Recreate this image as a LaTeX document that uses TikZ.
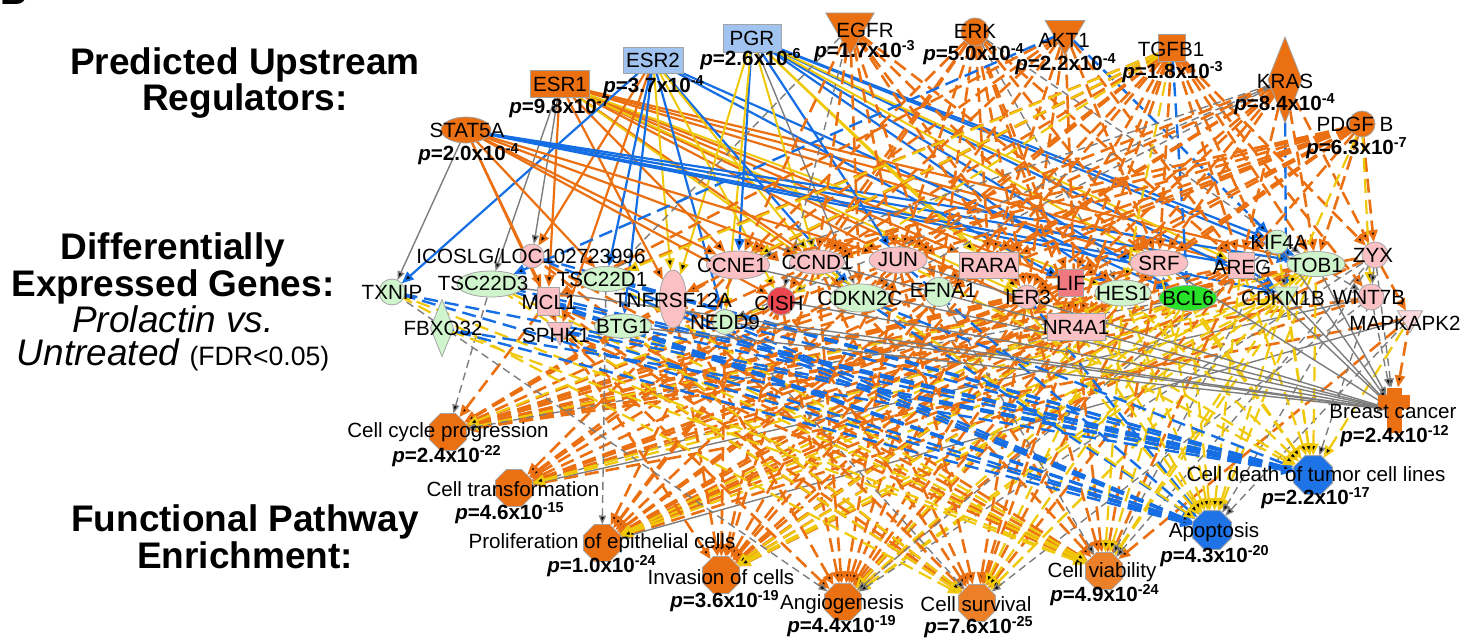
\documentclass[tikz,border=0pt]{standalone}
\usepackage{fontspec}
\setmainfont{Liberation Sans}
\usetikzlibrary{shapes.geometric, arrows.meta, backgrounds}

\definecolor{orng}{RGB}{234,112,18}
\definecolor{orngb}{RGB}{236,128,40}
\definecolor{blu}{RGB}{22,110,228}
\definecolor{fnblu}{RGB}{30,115,230}
\definecolor{ylw}{RGB}{240,200,10}
\definecolor{gry}{RGB}{125,125,125}
\definecolor{ltblu}{RGB}{160,195,240}
\definecolor{pnk}{RGB}{250,192,196}
\definecolor{palepnk}{RGB}{252,215,220}
\definecolor{ltgrn}{RGB}{208,245,205}
\definecolor{grn}{RGB}{40,225,40}
\definecolor{redd}{RGB}{235,70,80}
\definecolor{lifred}{RGB}{240,120,128}

\newcommand{\pv}[2]{\textit{p}=#1x10\textsuperscript{#2}}

\tikzset{
  shp/.style={draw=gry!70, line width=0.4pt, inner sep=0pt, outer sep=0pt},
  sz/.style 2 args={minimum width=#1*0.5pt, minimum height=#2*0.5pt},
  box/.style={shp, rectangle},
  oval/.style={shp, ellipse},
  dot/.style={shp, circle, minimum size=#1*0.5pt},
  vtri/.style={shp, regular polygon, regular polygon sides=3, shape border rotate=180, minimum size=#1*0.5pt},
  dia/.style={shp, diamond},
  oct/.style={shp, regular polygon, regular polygon sides=8, minimum size=#1*0.5pt},
  gene/.style={font=\fontsize{10.3}{12}\selectfont, inner sep=0pt},
  pval/.style={font=\fontsize{10.3}{12}\selectfont\bfseries, inner sep=0pt},
  head/.style={font=\fontsize{18.5}{16.5}\selectfont\bfseries, align=center, inner sep=0pt},
  act/.style={draw=orng, line width=1.1pt, ->},
  actd/.style={act, line width=1.3pt, dash pattern=on 7pt off 3.5pt},
  inh/.style={draw=blu, line width=1.1pt, ->},
  inhd/.style={inh, line width=1.2pt, dash pattern=on 7pt off 3.5pt},
  inc/.style={draw=ylw, line width=1pt, ->},
  incd/.style={inc, line width=1.1pt, dash pattern=on 7pt off 3.5pt},
  unk/.style={draw=gry, line width=0.7pt, ->, >={Triangle[length=4.5pt,width=3.5pt]}},
  unkd/.style={unk, dash pattern=on 4pt off 2.5pt}
}

\begin{document}
\begin{tikzpicture}[x=0.5pt, y=-0.5pt, >={Triangle[length=6pt,width=5pt]}]
\useasboundingbox (0,0) rectangle (1466,642);

% upstream regulators
\node[box, sz={59}{27}, fill=orng] (esra) at (560,84) {};
\node[box, sz={60}{26}, fill=ltblu] (esrb) at (653,60) {};
\node[box, sz={58}{28}, fill=ltblu] (pgr) at (752,38) {};
\node[vtri=56, fill=orng] (egfr) at (850,27) {};
\node[dot=28, fill=orng] (erk) at (975,32) {};
\node[vtri=46, fill=orng] (akt) at (1065,32) {};
\node[box, sz={27}{27}, fill=orng] (tgfb) at (1172,48) {};
\node[dia, sz={34}{86}, fill=orng] (kras) at (1285,80) {};
\node[dot=26, fill=orng] (pdgf) at (1362,124) {};
\node[oval, sz={50}{26}, fill=orng] (stat) at (466,130) {};

% genes
\node[dot=24, fill=pnk] (icos) at (532,256) {};
\node[dot=26, fill=ltgrn] (txnip) at (392,292) {};
\node[oval, sz={68}{26}, fill=ltgrn] (tscc) at (491,284) {};
\node[oval, sz={55}{25}, fill=ltgrn] (tscd) at (606,279) {};
\node[box, sz={22}{28}, fill=pnk] (mcl) at (548,301) {};
\node[dia, sz={23}{57}, fill=ltgrn] (fbxo) at (442,328) {};
\node[vtri=30, fill=pnk] (sphk) at (560,330) {};
\node[oval, sz={57}{24}, fill=ltgrn] (btg) at (623,326) {};
\node[oval, sz={27}{58}, fill=pnk] (tnfr) at (673,299) {};
\node[dot=25, fill=ltgrn] (nedd) at (725,322) {};
\node[oval, sz={63}{28}, fill=pnk] (ccne) at (738,265) {};
\node[dot=28, fill=redd] (cish) at (781,301) {};
\node[oval, sz={55}{24}, fill=pnk] (ccnd) at (817,262) {};
\node[oval, sz={58}{26}, fill=pnk] (jun) at (898,260) {};
\node[oval, sz={60}{28}, fill=ltgrn] (cdkc) at (860,298) {};
\node[dot=29, fill=ltgrn] (efna) at (939,292) {};
\node[box, sz={59}{26}, fill=pnk] (rara) at (989,265) {};
\node[dot=24, fill=pnk] (ier) at (1027,297) {};
\node[box, sz={25}{27}, fill=lifred] (lif) at (1071,283) {};
\node[box, sz={58}{27}, fill=pnk] (nra) at (1076,327) {};
\node[oval, sz={56}{26}, fill=ltgrn] (hes) at (1123,293) {};
\node[oval, sz={58}{26}, fill=pnk] (srf) at (1159,263) {};
\node[oval, sz={58}{25}, fill=grn] (bcl) at (1188,298) {};
\node[box, sz={26}{26}, fill=pnk] (areg) at (1241,265) {};
\node[dot=24, fill=ltgrn] (kif) at (1277,242) {};
\node[oval, sz={58}{25}, fill=ltgrn] (tob) at (1316,264) {};
\node[vtri=28, fill=ltgrn] (cdkb) at (1286,294) {};
\node[dot=26, fill=pnk] (zyx) at (1375,255) {};
\node[dot=26, fill=pnk] (wnt) at (1371,297) {};
\node[vtri=29, fill=palepnk] (mapk) at (1410,318) {};

% functions
\node[oct=40, fill=orng] (ccp) at (448,432) {};
\node[oct=40, fill=orng] (trans) at (514,488) {};
\node[oct=40, fill=orng] (prol) at (602,543) {};
\node[oct=40, fill=orng] (inva) at (721,575) {};
\node[oct=40, fill=orng] (angio) at (843,602) {};
\node[oct=40, fill=orngb] (surv) at (977,603) {};
\node[oct=40, fill=orngb] (viab) at (1104,571) {};
\node[oct=42, fill=fnblu] (apop) at (1212,530) {};
\node[oct=42, fill=fnblu] (death) at (1313,475) {};
\node[box, sz={15}{45}, fill=orng, draw=none] (brca) at (1394,410) {};
\node[box, sz={32}{14}, fill=orng, draw=none] (brcx) at (1394,402) {};

\begin{scope}[on background layer]
% regulators to genes
\path[act] (esra) edge (ccne) edge (ccnd) edge (jun) edge (rara) edge (srf) edge (nra)
  edge (areg) edge (tob) edge (mcl) edge (tnfr) edge (lif);
\path[unk] (esra) edge (icos) edge (tscc);
\path[inc] (esra) edge (ier) edge (hes) edge (cdkc);
\path[inh] (esrb) edge (txnip) edge (btg) edge (tscd) edge (nedd) edge (cdkc) edge (lif) edge (bcl);
\path[inc] (esrb) edge (tnfr) edge (ccnd) edge (cish);
\path[act] (esrb) edge (sphk) edge (icos);
\path[inh] (pgr) edge (bcl) edge (cdkb) edge (tob) edge (hes) edge (jun) edge (kif) edge (ccne);
\path[inc] (pgr) edge (tnfr) edge (nedd) edge (areg) edge (srf) edge (ier) edge (rara) edge (ccnd);
\path[unk] (pgr) edge (cdkc);
\path[act] (stat) edge (mcl) edge (sphk) edge (ccnd) edge (cish) edge (jun) edge (ccne) edge (tscd);
\path[inh] (stat) edge (srf) edge (areg) edge (cdkb) edge (tob);
\path[unk] (stat) edge (txnip);
\path[actd] (egfr) edge (ccnd) edge (jun) edge (ccne) edge (efna) edge (cdkc) edge (nra)
  edge (srf) edge (hes) edge (ier);
\path[unkd] (egfr) edge (cish) edge (tscd);
\path[actd] (erk) edge (ccnd) edge (jun) edge (rara) edge (ier) edge (lif) edge (srf) edge (nra)
  edge (cish) edge (ccne) edge (areg) edge (efna);
\path[unkd] (erk) edge (hes) edge (tob);
\path[actd] (akt) edge (ccnd) edge (jun) edge (ccne) edge (srf) edge (areg) edge (ier) edge (nra)
  edge (mcl) edge (rara);
\path[inhd] (akt) edge (tscc) edge (kif);
\path[actd] (tgfb) edge (jun) edge (srf) edge (areg) edge (tob) edge (cdkb) edge (nra) edge (lif)
  edge (ier) edge (rara) edge (cdkc) edge (efna) edge (ccnd) edge (ccne) edge (zyx) edge (wnt)
  edge (tnfr) edge (mcl);
\path[incd] (tgfb) edge (ccne) edge (tscd) edge (hes) edge (cish);
\path[inhd] (tgfb) edge (bcl);
\path[actd] (kras) edge (ccnd) edge (jun) edge (srf) edge (areg) edge (ier) edge (tob) edge (zyx)
  edge (efna) edge (nra) edge (lif) edge (rara);
\path[unkd] (kras) edge (ccne) edge (nedd) edge (cdkc);
\path[inhd] (kras) edge (cdkb);
\path[actd] (pdgf) edge (ccnd) edge (jun) edge (srf) edge (areg) edge (tob) edge (ier) edge (rara)
  edge (ccne) edge (cdkc) edge (lif) edge (nra) edge (hes) edge (efna) edge (zyx);
\path[incd] (pdgf) edge (wnt) edge (cdkb);
% genes to genes
\path[unkd] (tob) edge (wnt) (zyx) edge (wnt) (kif) edge (cdkb);
\path[actd] (zyx) edge (mapk);
\path[inh] (areg) edge (cdkb);
% genes to functions
\path[actd,<-] (ccp) edge (ccne) edge (ccnd) edge (jun) edge (srf) edge (cdkc) edge (tob) edge (btg)
  edge (mcl) edge (lif) edge (areg) edge (cdkb) edge (nra) edge (rara) edge (tnfr) edge (efna)
  edge (ier) edge (zyx) edge (wnt);
\path[incd,<-] (ccp) edge (hes) edge (cish);
\path[unkd,<-] (ccp) edge (bcl) edge (tscc);
\path[actd,<-] (trans) edge (jun) edge (ccnd) edge (srf) edge (rara) edge (lif) edge (areg) edge (ier)
  edge (ccne) edge (cish) edge (nra) edge (mapk);
\path[unkd,<-] (trans) edge (bcl);
\path[unk,<-] (trans) edge (wnt);
\path[incd,<-] (trans) edge (cdkb) edge (tob);
\path[actd,<-] (prol) edge (ccnd) edge (jun) edge (areg) edge (ccne) edge (lif) edge (efna) edge (nra)
  edge (srf) edge (tob) edge (rara) edge (cish) edge (ier) edge (wnt);
\path[unkd,<-] (prol) edge (tscd);
\path[unk,<-] (prol) edge (mapk);
\path[incd,<-] (prol) edge (hes) edge (bcl) edge (cdkb);
\path[actd,<-] (inva) edge (jun) edge (srf) edge (areg) edge (sphk) edge (nedd) edge (tnfr) edge (cish)
  edge (lif) edge (ier) edge (efna) edge (ccnd) edge (nra) edge (rara) edge (zyx);
\path[incd,<-] (inva) edge (bcl) edge (cdkb) edge (hes) edge (tob);
\path[actd,<-] (angio) edge (ccnd) edge (jun) edge (lif) edge (areg) edge (ier) edge (efna) edge (nra)
  edge (srf) edge (sphk) edge (tnfr) edge (rara) edge (cish);
\path[incd,<-] (angio) edge (hes) edge (bcl) edge (tob) edge (cdkb);
\path[unkd,<-] (angio) edge (txnip) edge (kif) edge (zyx);
\path[actd,<-] (surv) edge (mcl) edge (sphk) edge (jun) edge (srf) edge (ier) edge (lif) edge (areg)
  edge (nra) edge (tnfr) edge (ccnd) edge (icos) edge (cish);
\path[incd,<-] (surv) edge (txnip) edge (tscc) edge (cdkb) edge (tob) edge (btg) edge (bcl) edge (hes);
\path[unkd,<-] (surv) edge (wnt) edge (nedd);
\path[actd,<-] (viab) edge (mcl) edge (sphk) edge (ccnd) edge (srf) edge (lif) edge (jun) edge (areg)
  edge (icos) edge (tnfr) edge (ier) edge (mapk);
\path[incd,<-] (viab) edge (txnip) edge (tscc) edge (cdkb) edge (tob) edge (bcl) edge (btg) edge (hes)
  edge (tscd) edge (fbxo);
\path[unkd,<-] (viab) edge (kif) edge (zyx) edge (efna);
\path[inhd,<-] (apop) edge (txnip) edge (tscc) edge (tscd) edge (fbxo) edge (btg) edge (icos) edge (mcl)
  edge (sphk) edge (nedd) edge (cdkc) edge (ier) edge (jun);
\path[incd,<-] (apop) edge (nra) edge (tob) edge (cdkb) edge (hes) edge (bcl) edge (areg) edge (srf)
  edge (ccnd) edge (lif) edge (rara);
\path[unkd,<-] (apop) edge (mapk) edge (zyx);
\path[inhd,<-] (death) edge (txnip) edge (tscc) edge (tscd) edge (fbxo) edge (btg) edge (mcl) edge (sphk)
  edge (icos) edge (cdkc) edge (nedd);
\path[incd,<-] (death) edge (tob) edge (cdkb) edge (hes) edge (bcl) edge (srf) edge (jun) edge (areg)
  edge (kif) edge (nra) edge (mapk);
\path[unkd,<-] (death) edge (wnt);
\path[unk,<-] (brca) edge (ccnd) edge (jun) edge (srf) edge (areg) edge (cdkb) edge (ccne) edge (tob)
  edge (kif) edge (tscc) edge (btg) edge (cish) edge (nedd);
\path[unkd,<-] (brca) edge (zyx) edge (wnt);
\path[actd,<-] (brca) edge (mapk);
\end{scope}

% regulator labels
\node[gene] (esral) at (560,84) {ESR1};
\node[pval] (esrap) at (560,107) {\pv{9.8}{-7}};
\node[gene] (esrbl) at (653,60) {ESR2};
\node[pval] (esrbp) at (654,86) {\pv{3.7}{-4}};
\node[gene] (pgrl) at (752,38) {PGR};
\node[pval] (pgrp) at (751,59) {\pv{2.6}{-6}};
\node[gene] (egfrl) at (865,30) {EGFR};
\node[pval] (egfrp) at (865,51) {\pv{1.7}{-3}};
\node[gene] (erkl) at (975,31) {ERK};
\node[pval] (erkp) at (974,54) {\pv{5.0}{-4}};
\node[gene] (aktl) at (1064,40) {AKT1};
\node[pval] (aktp) at (1066,64) {\pv{2.2}{-4}};
\node[gene] (tgfbl) at (1171,49) {TGFB1};
\node[pval] (tgfbp) at (1173,72) {\pv{1.8}{-3}};
\node[gene] (krasl) at (1285,81) {KRAS};
\node[pval] (krasp) at (1285,104) {\pv{8.4}{-4}};
\node[gene] (pdgfl) at (1355,124) {PDGF B};
\node[pval] (pdgfp) at (1357,148) {\pv{6.3}{-7}};
\node[gene] (statl) at (467,130) {STAT5A};
\node[pval] (statp) at (469,154) {\pv{2.0}{-4}};

% gene labels
\node[gene] (icosl) at (531,256) {ICOSLG/LOC102723996};
\node[gene] (txnipl) at (392,292) {TXNIP};
\node[gene] (tsccl) at (483,283) {TSC22D3};
\node[gene] (tscdl) at (602,279) {TSC22D1};
\node[gene] (mcll) at (549,302) {MCL1};
\node[gene] (fbxol) at (443,328) {FBXO32};
\node[gene] (sphkl) at (556,335) {SPHK1};
\node[gene] (btgl) at (623,326) {BTG1};
\node[gene] (tnfrl) at (673,300) {TNFRSF12A};
\node[gene] (neddl) at (725,322) {NEDD9};
\node[gene] (ccnel) at (732,265) {CCNE1};
\node[gene] (cishl) at (779,303) {CISH};
\node[gene] (ccndl) at (817,262) {CCND1};
\node[gene] (junl) at (898,260) {JUN};
\node[gene] (cdkcl) at (860,298) {CDKN2C};
\node[gene] (efnal) at (943,290) {EFNA1};
\node[gene] (raral) at (989,265) {RARA};
\node[gene] (ierl) at (1028,297) {IER3};
\node[gene] (lifl) at (1071,283) {LIF};
\node[gene] (nral) at (1076,327) {NR4A1};
\node[gene] (hesl) at (1123,293) {HES1};
\node[gene] (srfl) at (1159,263) {SRF};
\node[gene] (bcll) at (1188,298) {BCL6};
\node[gene] (aregl) at (1242,267) {AREG};
\node[gene] (kifl) at (1279,242) {KIF4A};
\node[gene] (tobl) at (1316,265) {TOB1};
\node[gene] (cdkbl) at (1283,298) {CDKN1B};
\node[gene] (zyxl) at (1373,255) {ZYX};
\node[gene] (wntl) at (1369,297) {WNT7B};
\node[gene] (mapkl) at (1405,323) {MAPKAPK2};

% function labels
\node[gene] (ccpl) at (448,432) {Cell cycle progression};
\node[pval] (ccpp) at (447,456) {\pv{2.4}{-22}};
\node[gene] (transl) at (513,489) {Cell transformation};
\node[pval] (transp) at (510,513) {\pv{4.6}{-15}};
\node[gene] (proll) at (602,543) {Proliferation of epithelial cells};
\node[pval] (prolp) at (602,566) {\pv{1.0}{-24}};
\node[gene] (innval) at (721,577) {Invasion of cells};
\node[pval] (invap) at (725,601) {\pv{3.6}{-19}};
\node[gene] (angiol) at (842,604) {Angiogenesis};
\node[pval] (angiop) at (842,626) {\pv{4.4}{-19}};
\node[gene] (survl) at (976,604) {Cell survival};
\node[pval] (survp) at (979,627) {\pv{7.6}{-25}};
\node[gene] (viabl) at (1102,572) {Cell viability};
\node[pval] (viabp) at (1105,595) {\pv{4.9}{-24}};
\node[gene] (apopl) at (1214,532) {Apoptosis};
\node[pval] (apopp) at (1215,556) {\pv{4.3}{-20}};
\node[gene] (deathl) at (1316,474) {Cell death of tumor cell lines};
\node[pval] (deathp) at (1316,498) {\pv{2.2}{-17}};
\node[gene] (brcal) at (1393,412) {Breast cancer};
\node[pval] (brcap) at (1395,436) {\pv{2.4}{-12}};

% row headings
\node[font=\fontsize{18.5}{20}\selectfont\bfseries, anchor=base west, inner sep=0pt] (panel) at (0,5) {B};
\node[head] (hdreg) at (245,83) {Predicted Upstream\\Regulators:};
\node[head] (hdgen) at (173,302) {Differentially\\Expressed Genes:\\{\mdseries\itshape Prolactin vs.}\\{\mdseries\itshape Untreated} {\mdseries\fontsize{13.3}{16}\selectfont(FDR<0.05)}};
\node[head] (hdfun) at (245,537) {Functional Pathway\\Enrichment:};
\end{tikzpicture}
\end{document}
